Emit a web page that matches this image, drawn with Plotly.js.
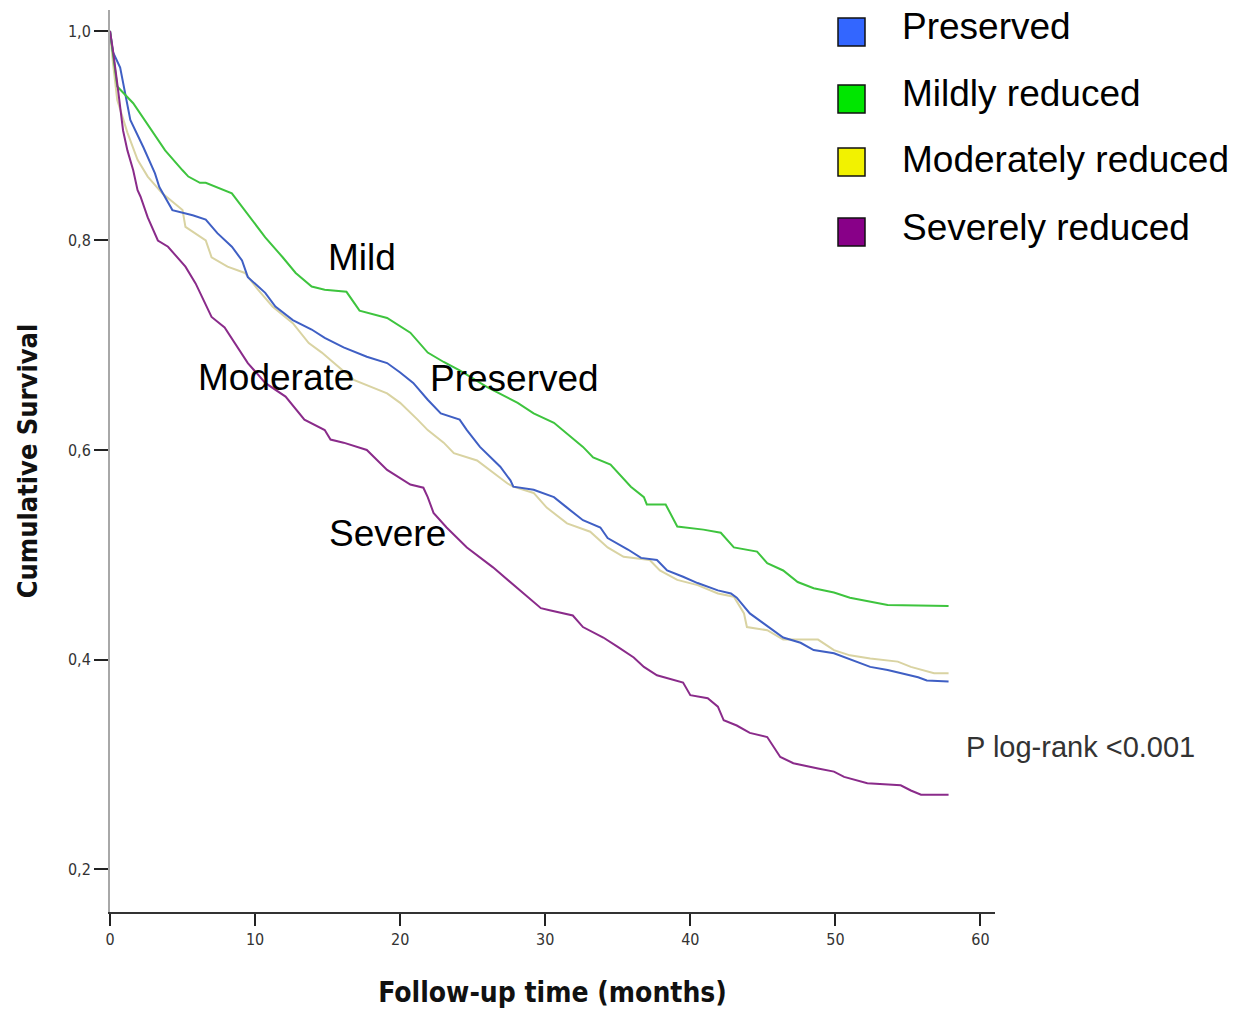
<!DOCTYPE html>
<html>
<head>
<meta charset="utf-8">
<script src="https://cdn.plot.ly/plotly-3.0.1.min.js"></script>
<style>html,body{margin:0;padding:0;background:#fff;}#chart{width:1235px;height:1009px;}</style>
</head>
<body>
<div id="chart"></div>
<script>
// ---- Data (months, cumulative survival) ----
const seriesNames = ["Preserved", "Mildly reduced", "Moderately reduced", "Severely reduced"];
const curveLabels = ["Preserved", "Mild", "Moderate", "Severe"];

const preservedT = [0,0.2,0.7,1.4,2.3,3.1,3.4,4.3,5.7,6.6,7.4,8.4,9.1,9.5,10.7,11.4,12.6,13.9,14.8,16.1,17.7,19.1,20,20.9,21.9,22.8,24.1,24.6,25.5,26.9,27.6,27.8,29.2,30.6,31.5,32.6,33.8,34.3,35.7,36.6,37.7,38.4,39.5,40.5,41.9,42.8,43.2,44.1,45,46.4,47.6,48.5,49.9,51,52.4,53.6,54.5,55.7,56.3,57.8];
const preservedS = [1.0,0.98,0.965,0.915,0.889,0.864,0.851,0.829,0.824,0.820,0.807,0.794,0.781,0.765,0.750,0.737,0.724,0.715,0.707,0.698,0.689,0.683,0.674,0.664,0.648,0.635,0.629,0.619,0.603,0.584,0.571,0.565,0.562,0.555,0.545,0.533,0.526,0.516,0.505,0.497,0.495,0.485,0.479,0.473,0.466,0.463,0.459,0.444,0.435,0.421,0.416,0.409,0.406,0.400,0.393,0.390,0.387,0.383,0.380,0.379];

const mildT = [0,0.3,0.5,1.6,3.2,3.8,5,5.4,6.2,6.6,8.4,9.3,10.7,11.9,12.8,13.9,14.8,16.3,17.2,19.1,20.7,21.9,23,24.1,26,28.1,29.2,30.6,31.5,32.6,33.3,34.5,35.9,36.8,37,38.3,39.1,40.9,42.1,43,44.6,45.3,46.4,47.4,48.5,49.9,51,52.4,53.6,57.8];
const mildS = [1.0,0.97,0.947,0.931,0.899,0.886,0.867,0.861,0.855,0.855,0.845,0.829,0.803,0.784,0.769,0.756,0.753,0.751,0.733,0.726,0.712,0.693,0.684,0.676,0.660,0.645,0.635,0.626,0.616,0.603,0.593,0.586,0.565,0.555,0.548,0.548,0.527,0.524,0.521,0.507,0.503,0.492,0.485,0.474,0.468,0.464,0.459,0.455,0.452,0.451];

const moderateT = [0,0.2,0.5,1.2,1.9,2.6,3.6,5,5.2,6.6,7,8.1,9.3,10.2,11.2,12.6,13.7,14.6,15.2,16.8,19.1,20,21.2,21.9,23,23.7,25.3,26.4,27.4,27.8,29.2,30.1,31.5,33.1,34.3,35.4,37.2,37.9,39.1,40.5,41.9,43,43.7,43.9,45.3,46.4,48.8,49.9,51,52.4,54.3,55.2,56.8,57.8];
const moderateS = [1.0,0.97,0.934,0.903,0.877,0.861,0.845,0.829,0.813,0.800,0.784,0.775,0.769,0.753,0.737,0.721,0.702,0.693,0.686,0.667,0.654,0.645,0.629,0.619,0.607,0.597,0.590,0.578,0.568,0.565,0.559,0.545,0.530,0.522,0.507,0.498,0.495,0.485,0.476,0.471,0.463,0.460,0.444,0.431,0.428,0.419,0.419,0.409,0.404,0.401,0.398,0.393,0.387,0.387];

const severeT = [0,0.2,0.5,0.9,1.2,1.6,1.9,2.1,2.6,3.3,4,5.2,5.9,7,7.9,8.8,9.5,10.7,12.1,13.4,14.8,15.2,16.1,17.7,19.1,20.7,21.6,21.9,22.3,23.2,24.6,26.4,28.3,29.7,30.3,31.9,32.6,34,35,36.1,36.8,37.7,39.5,40,41.2,41.9,42.3,43.2,44.1,45.3,46.2,47.1,48.8,49.9,50.6,52.2,54.5,55.2,55.9,57.8];
const severeS = [1.0,0.982,0.950,0.905,0.886,0.867,0.848,0.842,0.822,0.800,0.794,0.775,0.759,0.727,0.717,0.698,0.683,0.664,0.651,0.629,0.619,0.610,0.607,0.600,0.581,0.567,0.564,0.555,0.540,0.526,0.507,0.488,0.466,0.449,0.447,0.442,0.431,0.421,0.412,0.402,0.393,0.385,0.378,0.366,0.363,0.355,0.342,0.337,0.330,0.326,0.307,0.301,0.296,0.293,0.288,0.282,0.280,0.275,0.271,0.271];

const xTicks = [0,10,20,30,40,50,60];
const yTickVals = [0.2,0.4,0.6,0.8,1.0];
const yTickText = ["0,2","0,4","0,6","0,8","1,0"];
const pValueText = "P log-rank <0.001";

// ---- Styles ----
const lineColors = ["#3f5fc4", "#3ec43e", "#d9d3a2", "#8a2b8a"];
const swatchColors = ["#3366ff", "#00e600", "#f2f200", "#880088"];
const xs = [preservedT, mildT, moderateT, severeT];
const ys = [preservedS, mildS, moderateS, severeS];
const drawOrder = [2, 0, 1, 3];

const traces = drawOrder.map(i => ({
  type: "scatter", mode: "lines", name: seriesNames[i],
  x: xs[i], y: ys[i],
  line: {color: lineColors[i], width: 2, shape: "linear"},
  showlegend: false, hoverinfo: "x+y+name"
}));

const shapes = [];
const annotations = [];
const legTop = [18, 85, 148, 218];      // pixel tops of swatches
const legTextMid = [27, 93, 160, 227];  // pixel centres of legend texts
const plotTopPx = 10, plotH = 902, plotLeftPx = 110, plotW = 885;
const px2x = p => (p - plotLeftPx) / plotW;
const px2y = p => (plotTopPx + plotH - p) / plotH;
seriesNames.forEach((n, i) => {
  shapes.push({type: "rect", xref: "paper", yref: "paper",
    x0: px2x(838), x1: px2x(865), y0: px2y(legTop[i] + 28), y1: px2y(legTop[i]),
    fillcolor: swatchColors[i], line: {color: "#111", width: 1.5}});
  annotations.push({xref: "paper", yref: "paper", x: px2x(900), y: px2y(legTextMid[i]),
    text: n, showarrow: false, xanchor: "left", yanchor: "middle",
    font: {family: "Liberation Sans, Arial", size: 37, color: "#000"}});
});

// Curve labels placed near their curves (pixel centres converted to paper)
const labelPx = [[514, 378], [362, 257], [276, 377], [387, 533]];
curveLabels.forEach((t, i) => {
  annotations.push({xref: "paper", yref: "paper", x: px2x(labelPx[i][0]), y: px2y(labelPx[i][1]),
    text: t, showarrow: false, xanchor: "center", yanchor: "middle",
    font: {family: "Liberation Sans, Arial", size: 37, color: "#000"}});
});
annotations.push({xref: "paper", yref: "paper", x: px2x(1080), y: px2y(747), text: pValueText,
  showarrow: false, xanchor: "center", yanchor: "middle",
  font: {family: "Liberation Sans, Arial", size: 29, color: "#333"}});

const layout = {
  width: 1235, height: 1009,
  margin: {l: 110, r: 240, t: 10, b: 97},
  paper_bgcolor: "#fff", plot_bgcolor: "#fff",
  showlegend: false,
  xaxis: {
    range: [0, 61], tickvals: xTicks, ticktext: xTicks.map(String),
    ticks: "outside", ticklen: 12, tickwidth: 1.5, tickcolor: "#222",
    showline: true, linecolor: "#333", linewidth: 1.5,
    showgrid: false, zeroline: false,
    tickfont: {family: "DejaVu Sans Condensed", size: 16, color: "#333"},
    title: {text: "<b>Follow-up time (months)</b>", standoff: 34,
      font: {family: "DejaVu Sans Condensed", size: 28, color: "#111"}}
  },
  yaxis: {
    range: [0.159, 1.02], tickvals: yTickVals, ticktext: yTickText,
    ticks: "outside", ticklen: 14, tickwidth: 1.5, tickcolor: "#222",
    showline: true, linecolor: "#a8a8a8", linewidth: 2,
    showgrid: false, zeroline: false,
    tickfont: {family: "DejaVu Sans Condensed", size: 16, color: "#333"},
    title: {text: "<b>Cumulative Survival</b>", standoff: 22,
      font: {family: "DejaVu Sans Condensed", size: 27, color: "#111"}}
  },
  shapes: shapes,
  annotations: annotations
};

Plotly.newPlot("chart", traces, layout, {displayModeBar: false, responsive: false});
</script>
</body>
</html>
